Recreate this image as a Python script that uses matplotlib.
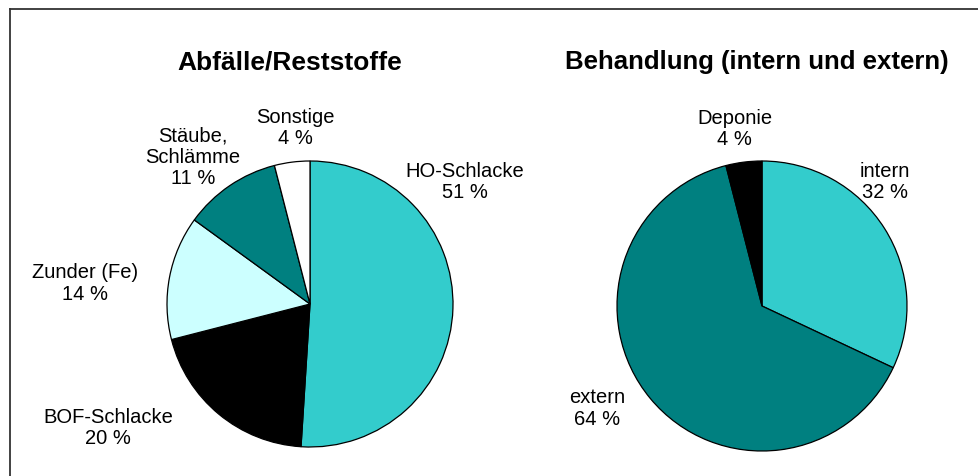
import matplotlib.pyplot as plt
from matplotlib.lines import Line2D

plt.rcParams['font.family'] = ['Liberation Sans', 'DejaVu Sans']

# left pie: Abfaelle/Reststoffe
left_labels = ['HO-Schlacke', 'BOF-Schlacke', 'Zunder (Fe)', 'Stäube,\nSchlämme', 'Sonstige']
left_values = [51, 20, 14, 11, 4]
left_colors = ['#33CCCC', '#000000', '#CCFFFF', '#008080', '#FFFFFF']

# right pie: Behandlung
right_labels = ['intern', 'extern', 'Deponie']
right_values = [32, 64, 4]
right_colors = ['#33CCCC', '#008080', '#000000']

# label positions (in units of pie radius)
left_pos = [(1.08, 0.86), (-1.41, -0.86), (-1.57, 0.15), (-0.82, 1.03), (-0.10, 1.24)]
right_pos = [(0.85, 0.86), (-1.14, -0.70), (-0.19, 1.23)]

W, H = 979, 477
fig = plt.figure(figsize=(W / 100, H / 100), dpi=100)

k = 1.8


def make_ax(cx, cy, r):
    return fig.add_axes([(cx - r * k) / W, (H - cy - r * k) / H, 2 * r * k / W, 2 * r * k / H])


def draw_pie(ax, values, colors, labels, pos):
    ax.pie(values, colors=colors, startangle=90, counterclock=False,
           wedgeprops=dict(edgecolor='black', linewidth=0.9))
    for lab, v, (x, y) in zip(labels, values, pos):
        ax.text(x, y, '%s\n%d %%' % (lab, v), ha='center', va='center',
                fontsize=14.5, linespacing=1.15)
    ax.set_xlim(-k, k)
    ax.set_ylim(-k, k)
    ax.axis('off')


ax1 = make_ax(310, 305, 143)
draw_pie(ax1, left_values, left_colors, left_labels, left_pos)
ax2 = make_ax(762, 307, 145)
draw_pie(ax2, right_values, right_colors, right_labels, right_pos)

fig.text(290 / W, 1 - 62 / H, 'Abfälle/Reststoffe', ha='center', va='center',
         fontsize=19, fontweight='bold')
fig.text(757 / W, 1 - 62 / H, 'Behandlung (intern und extern)', ha='center', va='center',
         fontsize=18.5, fontweight='bold')

# frame (cut off at right and bottom)
fig.add_artist(Line2D([10 / W, 10 / W], [0, 1 - 10 / H], color='#333333', lw=1.3))
fig.add_artist(Line2D([10 / W, 1], [1 - 10 / H, 1 - 10 / H], color='#333333', lw=1.3))

fig.savefig('out.png', dpi=100)
